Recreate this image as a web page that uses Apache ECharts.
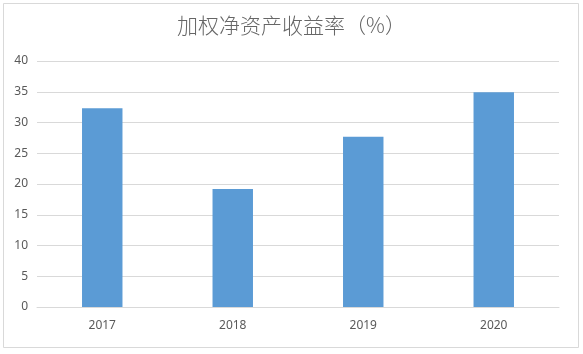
<!DOCTYPE html>
<html>
<head>
<meta charset="utf-8">
<script src="https://cdn.jsdelivr.net/npm/echarts@6/dist/echarts.min.js"></script>
<style>
html,body{margin:0;padding:0;background:#fff;}
#c{width:583px;height:354px;}
</style>
</head>
<body>
<div id="c"></div>
<script>
var titleText = '加权净资产收益率（%）';
var categories = ['2017', '2018', '2019', '2020'];
var values = [32.3, 19.2, 27.7, 34.9];

var chart = echarts.init(document.getElementById('c'));
chart.setOption({
  animation: false,
  backgroundColor: '#ffffff',
  graphic: [{
    type: 'rect',
    left: 1, top: 1,
    shape: {width: 575, height: 344},
    style: {fill: 'none', stroke: '#d9d9d9', lineWidth: 1}
  }],
  title: {
    text: titleText,
    left: 'center',
    top: 10,
    textStyle: {fontFamily: 'Noto Sans CJK SC', fontWeight: 300, fontSize: 21, color: '#666666'}
  },
  grid: {left: 37, right: 24, top: 61, bottom: 47},
  xAxis: {
    type: 'category',
    data: categories,
    axisLine: {lineStyle: {color: '#d9d9d9'}},
    axisTick: {show: false},
    axisLabel: {color: '#595959', fontSize: 12, margin: 13, fontFamily: 'Noto Sans'}
  },
  yAxis: {
    type: 'value',
    min: 0, max: 40, interval: 5,
    axisLine: {show: false},
    axisTick: {show: false},
    splitLine: {lineStyle: {color: '#d9d9d9'}},
    axisLabel: {color: '#595959', fontSize: 12, margin: 9, fontFamily: 'Noto Sans'}
  },
  series: [{
    type: 'bar',
    data: values,
    barWidth: '31%',
    itemStyle: {color: '#5b9bd5'}
  }]
});
</script>
</body>
</html>
